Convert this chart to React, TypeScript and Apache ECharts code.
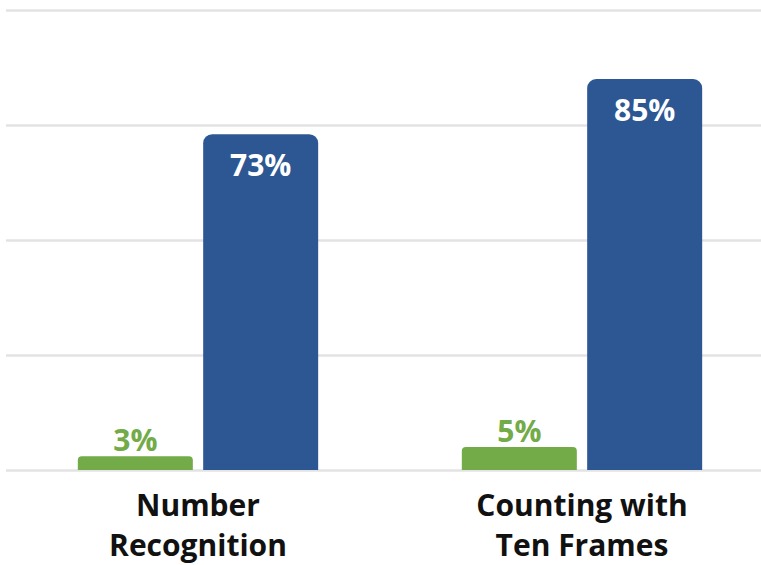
import React, { useEffect, useRef } from "react";
import * as echarts from "echarts";

const categories = ["Number\nRecognition", "Counting with\nTen Frames"];
const greenValues = [3, 5];
const blueValues = [73, 85];
const yMax = 100;
const yInterval = 25;

export default function App() {
  const ref = useRef<HTMLDivElement>(null);
  useEffect(() => {
    if (!ref.current) return;
    document.body.style.margin = "0";
    const chart = echarts.init(ref.current, undefined, { renderer: "svg" });
    const font = "'Open Sans', sans-serif";
    chart.setOption({
      animation: false,
      grid: { left: 6, top: 10, width: 768, height: 460, containLabel: false },
      xAxis: {
        type: "category",
        data: categories,
        axisLine: { show: false },
        axisTick: { show: false },
        axisLabel: {
          color: "#111",
          fontFamily: font,
          fontWeight: "bold",
          fontSize: 30,
          lineHeight: 40,
          margin: 14,
        },
      },
      yAxis: {
        type: "value",
        min: 0,
        max: yMax,
        interval: yInterval,
        axisLabel: { show: false },
        axisLine: { show: false },
        axisTick: { show: false },
        splitLine: { lineStyle: { color: "#e3e3e3", width: 2.5 } },
      },
      series: [
        {
          type: "bar",
          data: greenValues,
          barWidth: 115,
          barGap: "9%",
          itemStyle: { color: "#72AB48", borderRadius: [4, 4, 0, 0] },
          label: {
            show: true,
            position: "top",
            distance: 2,
            formatter: "{c}%",
            color: "#72AB48",
            fontFamily: font,
            fontWeight: "bold",
            fontSize: 30,
          },
        },
        {
          type: "bar",
          data: blueValues,
          barWidth: 115,
          itemStyle: { color: "#2C5793", borderRadius: [9, 9, 0, 0] },
          label: {
            show: true,
            position: "insideTop",
            distance: 15,
            formatter: "{c}%",
            color: "#ffffff",
            fontFamily: font,
            fontWeight: "bold",
            fontSize: 30,
          },
        },
      ],
    });
    return () => chart.dispose();
  }, []);
  return (
    <div style={{ width: 761, height: 565, position: "absolute", left: 0, top: 0, overflow: "hidden" }}>
      <div ref={ref} style={{ width: 776, height: 565 }} />
    </div>
  );
}
